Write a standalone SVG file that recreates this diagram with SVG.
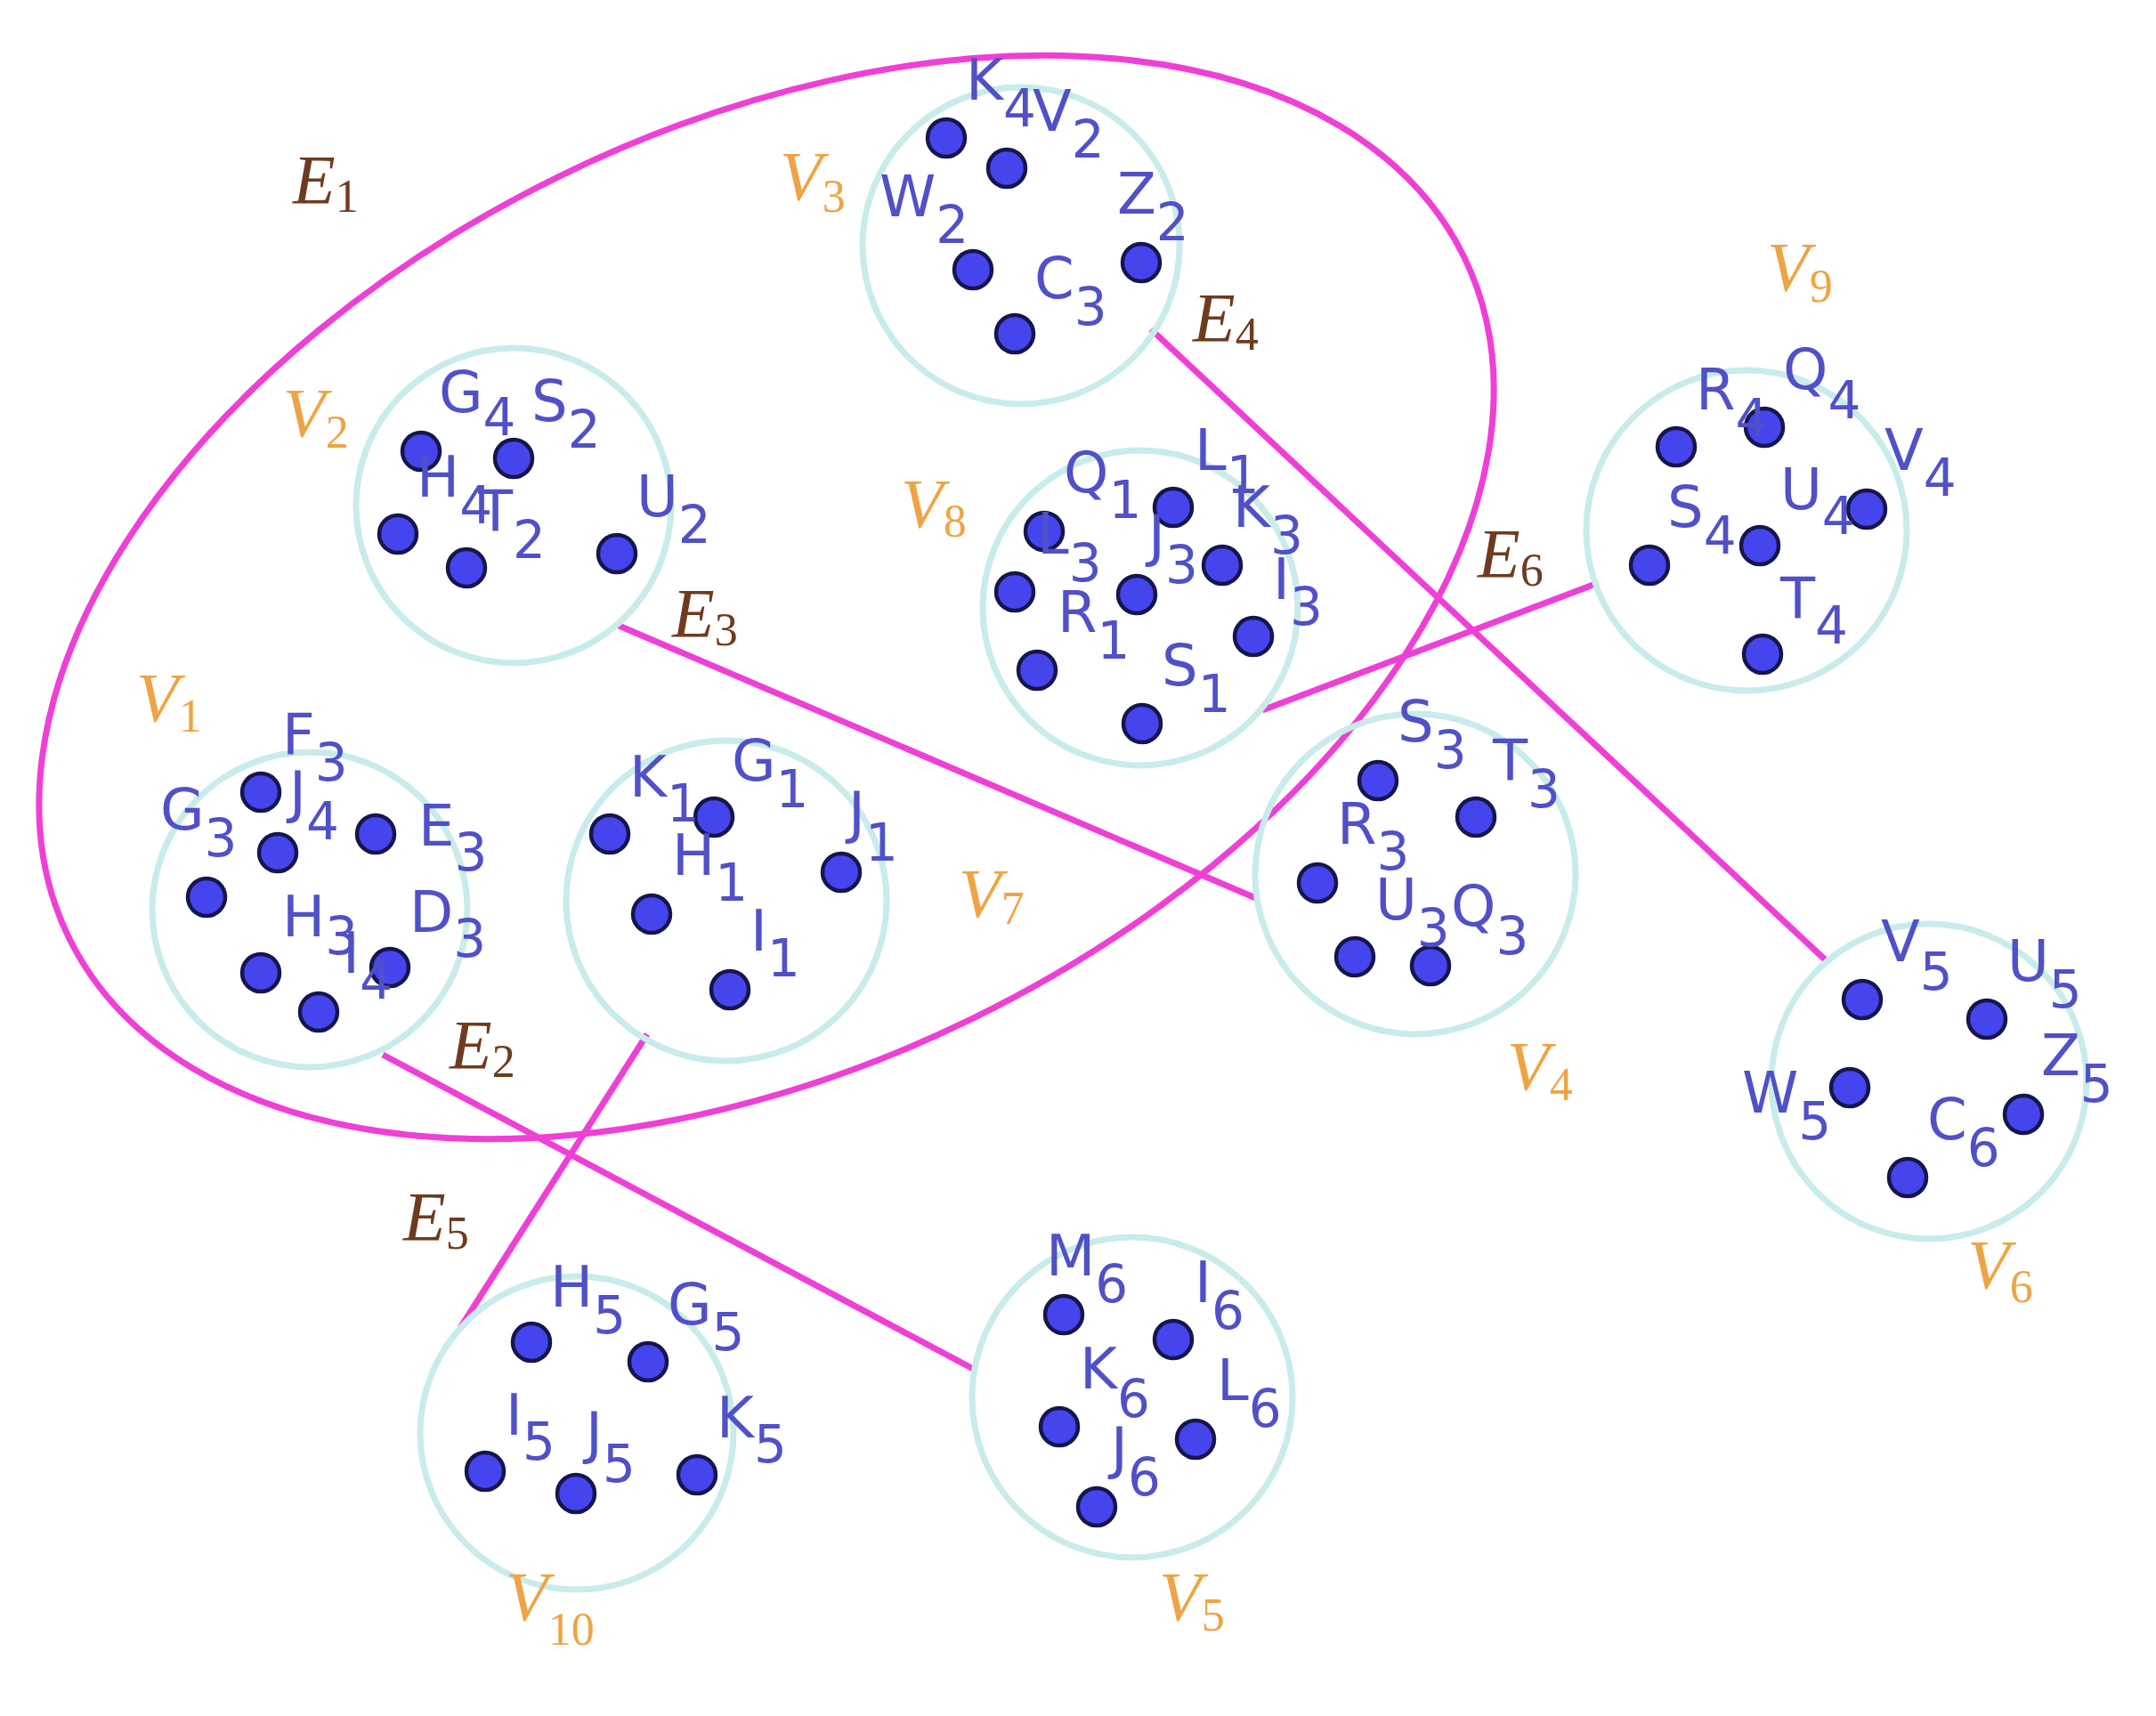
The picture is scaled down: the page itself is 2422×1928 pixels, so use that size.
<svg xmlns="http://www.w3.org/2000/svg" width="2422" height="1928" viewBox="0 0 2422 1928">
<style>
.cl{fill:none;stroke:#c8ebeb;stroke-width:7}
.dot{fill:#4545ee;stroke:#16164c;stroke-width:4.5}
.lb{font-family:"DejaVu Sans",sans-serif;font-size:64px;fill:#5050c8}
.sb{font-size:58px}
.vl{font-family:"Liberation Serif",serif;font-style:italic;font-size:78px;fill:#eea445}
.el{font-family:"Liberation Serif",serif;font-style:italic;font-size:78px;fill:#6e3b1f}
.vs{font-size:52px;font-style:normal}
.edge{fill:none;stroke:#ef3fd6;stroke-width:7}
</style>
<rect width="2422" height="1928" fill="#ffffff"/>
<g id="connectors">
<ellipse class="edge" cx="861" cy="671" rx="872" ry="527" transform="rotate(-26 861 671)"/>
<line class="edge" x1="1293" y1="370" x2="2050" y2="1078"/>
<line class="edge" x1="693" y1="702" x2="1413" y2="1010"/>
<line class="edge" x1="1418" y1="798" x2="1795" y2="655"/>
<line class="edge" x1="430" y1="1185" x2="1097" y2="1540"/>
<line class="edge" x1="727" y1="1162" x2="517" y2="1492"/>
<text class="el" x="329" y="228">E<tspan class="vs" dy="10">1</tspan></text>
<text class="el" x="505" y="1200">E<tspan class="vs" dy="10">2</tspan></text>
<text class="el" x="755" y="715">E<tspan class="vs" dy="10">3</tspan></text>
<text class="el" x="1340" y="383">E<tspan class="vs" dy="10">4</tspan></text>
<text class="el" x="453" y="1393">E<tspan class="vs" dy="10">5</tspan></text>
<text class="el" x="1660" y="648">E<tspan class="vs" dy="10">6</tspan></text>
</g>
<g id="V3">
<circle class="cl" cx="1147" cy="276" r="178"/>
<circle class="dot" cx="1063" cy="155" r="21"/>
<circle class="dot" cx="1131" cy="189" r="21"/>
<circle class="dot" cx="1093" cy="303" r="21"/>
<circle class="dot" cx="1140" cy="375" r="21"/>
<circle class="dot" cx="1282" cy="295" r="21"/>
<text class="lb" x="1085" y="112">K<tspan class="sb" dy="30">4</tspan></text>
<text class="lb" x="1160" y="147">V<tspan class="sb" dy="30">2</tspan></text>
<text class="lb" x="988" y="243">W<tspan class="sb" dy="30">2</tspan></text>
<text class="lb" x="1255" y="240">Z<tspan class="sb" dy="30">2</tspan></text>
<text class="lb" x="1162" y="335">C<tspan class="sb" dy="30">3</tspan></text>
<text class="vl" x="876" y="224">V<tspan class="vs" dy="14">3</tspan></text>
</g>
<g id="V2">
<circle class="cl" cx="577" cy="568" r="177"/>
<circle class="dot" cx="473" cy="507" r="21"/>
<circle class="dot" cx="577" cy="515" r="21"/>
<circle class="dot" cx="447" cy="600" r="21"/>
<circle class="dot" cx="524" cy="638" r="21"/>
<circle class="dot" cx="693" cy="622" r="21"/>
<text class="lb" x="493" y="463">G<tspan class="sb" dy="26">4</tspan></text>
<text class="lb" x="597" y="473">S<tspan class="sb" dy="30">2</tspan></text>
<text class="lb" x="468" y="558">H<tspan class="sb" dy="30">4</tspan></text>
<text class="lb" x="537" y="597">T<tspan class="sb" dy="30">2</tspan></text>
<text class="lb" x="715" y="580">U<tspan class="sb" dy="30">2</tspan></text>
<text class="vl" x="318" y="490">V<tspan class="vs" dy="13">2</tspan></text>
</g>
<g id="V8">
<circle class="cl" cx="1281" cy="683" r="177"/>
<circle class="dot" cx="1318" cy="570" r="21"/>
<circle class="dot" cx="1173" cy="597" r="21"/>
<circle class="dot" cx="1140" cy="665" r="21"/>
<circle class="dot" cx="1277" cy="668" r="21"/>
<circle class="dot" cx="1373" cy="635" r="21"/>
<circle class="dot" cx="1408" cy="715" r="21"/>
<circle class="dot" cx="1165" cy="753" r="21"/>
<circle class="dot" cx="1283" cy="813" r="21"/>
<text class="lb" x="1195" y="553">Q<tspan class="sb" dy="29">1</tspan></text>
<text class="lb" x="1342" y="528">L<tspan class="sb" dy="26">1</tspan></text>
<text class="lb" x="1385" y="592">K<tspan class="sb" dy="30">3</tspan></text>
<text class="lb" x="1165" y="622">L<tspan class="sb" dy="31">3</tspan></text>
<text class="lb" x="1290" y="624">J<tspan class="sb" dy="31">3</tspan></text>
<text class="lb" x="1430" y="673">I<tspan class="sb" dy="29">3</tspan></text>
<text class="lb" x="1188" y="710">R<tspan class="sb" dy="30">1</tspan></text>
<text class="lb" x="1305" y="770">S<tspan class="sb" dy="30">1</tspan></text>
<text class="vl" x="1012" y="592">V<tspan class="vs" dy="11">8</tspan></text>
</g>
<g id="V9">
<circle class="cl" cx="1962" cy="596" r="180"/>
<circle class="dot" cx="1883" cy="502" r="21"/>
<circle class="dot" cx="1982" cy="480" r="21"/>
<circle class="dot" cx="2097" cy="572" r="21"/>
<circle class="dot" cx="1977" cy="613" r="21"/>
<circle class="dot" cx="1853" cy="635" r="21"/>
<circle class="dot" cx="1980" cy="735" r="21"/>
<text class="lb" x="1905" y="460">R<tspan class="sb" dy="30">4</tspan></text>
<text class="lb" x="2003" y="437">Q<tspan class="sb" dy="33">4</tspan></text>
<text class="lb" x="2117" y="528">V<tspan class="sb" dy="29">4</tspan></text>
<text class="lb" x="2000" y="572">U<tspan class="sb" dy="28">4</tspan></text>
<text class="lb" x="1873" y="592">S<tspan class="sb" dy="30">4</tspan></text>
<text class="lb" x="2000" y="695">T<tspan class="sb" dy="28">4</tspan></text>
<text class="vl" x="1985" y="326">V<tspan class="vs" dy="13">9</tspan></text>
</g>
<g id="V1">
<circle class="cl" cx="348" cy="1022" r="177"/>
<circle class="dot" cx="293" cy="890" r="21"/>
<circle class="dot" cx="312" cy="958" r="21"/>
<circle class="dot" cx="422" cy="937" r="21"/>
<circle class="dot" cx="232" cy="1008" r="21"/>
<circle class="dot" cx="293" cy="1093" r="21"/>
<circle class="dot" cx="358" cy="1137" r="21"/>
<circle class="dot" cx="438" cy="1087" r="21"/>
<text class="lb" x="317" y="847">F<tspan class="sb" dy="30">3</tspan></text>
<text class="lb" x="325" y="912">J<tspan class="sb" dy="31">4</tspan></text>
<text class="lb" x="180" y="932">G<tspan class="sb" dy="30">3</tspan></text>
<text class="lb" x="470" y="950">E<tspan class="sb" dy="28">3</tspan></text>
<text class="lb" x="460" y="1047">D<tspan class="sb" dy="28">3</tspan></text>
<text class="lb" x="317" y="1052">H<tspan class="sb" dy="20">3</tspan></text>
<text class="lb" x="385" y="1093">I<tspan class="sb" dy="29">4</tspan></text>
<text class="vl" x="153" y="810">V<tspan class="vs" dy="12">1</tspan></text>
</g>
<g id="V7">
<circle class="cl" cx="816" cy="1012" r="180"/>
<circle class="dot" cx="685" cy="937" r="21"/>
<circle class="dot" cx="802" cy="918" r="21"/>
<circle class="dot" cx="945" cy="980" r="21"/>
<circle class="dot" cx="732" cy="1027" r="21"/>
<circle class="dot" cx="820" cy="1112" r="21"/>
<text class="lb" x="707" y="895">K<tspan class="sb" dy="28">1</tspan></text>
<text class="lb" x="822" y="877">G<tspan class="sb" dy="30">1</tspan></text>
<text class="lb" x="953" y="935">J<tspan class="sb" dy="32">1</tspan></text>
<text class="lb" x="755" y="983">H<tspan class="sb" dy="29">1</tspan></text>
<text class="lb" x="843" y="1068">I<tspan class="sb" dy="29">1</tspan></text>
<text class="vl" x="1077" y="1030">V<tspan class="vs" dy="8">7</tspan></text>
</g>
<g id="V4">
<circle class="cl" cx="1590" cy="982" r="180"/>
<circle class="dot" cx="1548" cy="877" r="21"/>
<circle class="dot" cx="1658" cy="918" r="21"/>
<circle class="dot" cx="1480" cy="992" r="21"/>
<circle class="dot" cx="1522" cy="1075" r="21"/>
<circle class="dot" cx="1607" cy="1085" r="21"/>
<text class="lb" x="1570" y="833">S<tspan class="sb" dy="30">3</tspan></text>
<text class="lb" x="1677" y="877">T<tspan class="sb" dy="30">3</tspan></text>
<text class="lb" x="1502" y="948">R<tspan class="sb" dy="29">3</tspan></text>
<text class="lb" x="1545" y="1033">U<tspan class="sb" dy="30">3</tspan></text>
<text class="lb" x="1630" y="1040">Q<tspan class="sb" dy="32">3</tspan></text>
<text class="vl" x="1693" y="1224">V<tspan class="vs" dy="12">4</tspan></text>
</g>
<g id="V6">
<circle class="cl" cx="2167" cy="1215" r="177"/>
<circle class="dot" cx="2092" cy="1123" r="21"/>
<circle class="dot" cx="2232" cy="1145" r="21"/>
<circle class="dot" cx="2078" cy="1222" r="21"/>
<circle class="dot" cx="2273" cy="1252" r="21"/>
<circle class="dot" cx="2143" cy="1323" r="21"/>
<text class="lb" x="2113" y="1080">V<tspan class="sb" dy="32">5</tspan></text>
<text class="lb" x="2255" y="1102">U<tspan class="sb" dy="30">5</tspan></text>
<text class="lb" x="2293" y="1208">Z<tspan class="sb" dy="30">5</tspan></text>
<text class="lb" x="1957" y="1250">W<tspan class="sb" dy="30">5</tspan></text>
<text class="lb" x="2165" y="1280">C<tspan class="sb" dy="30">6</tspan></text>
<text class="vl" x="2210" y="1447">V<tspan class="vs" dy="16">6</tspan></text>
</g>
<g id="V10">
<circle class="cl" cx="648" cy="1610" r="176"/>
<circle class="dot" cx="597" cy="1508" r="21"/>
<circle class="dot" cx="728" cy="1530" r="21"/>
<circle class="dot" cx="545" cy="1653" r="21"/>
<circle class="dot" cx="647" cy="1678" r="21"/>
<circle class="dot" cx="783" cy="1657" r="21"/>
<text class="lb" x="618" y="1468">H<tspan class="sb" dy="30">5</tspan></text>
<text class="lb" x="750" y="1488">G<tspan class="sb" dy="29">5</tspan></text>
<text class="lb" x="568" y="1612">I<tspan class="sb" dy="28">5</tspan></text>
<text class="lb" x="658" y="1632">J<tspan class="sb" dy="33">5</tspan></text>
<text class="lb" x="805" y="1615">K<tspan class="sb" dy="28">5</tspan></text>
<text class="vl" x="568" y="1820">V<tspan class="vs" dy="28">10</tspan></text>
</g>
<g id="V5">
<circle class="cl" cx="1272" cy="1570" r="180"/>
<circle class="dot" cx="1195" cy="1477" r="21"/>
<circle class="dot" cx="1318" cy="1505" r="21"/>
<circle class="dot" cx="1190" cy="1603" r="21"/>
<circle class="dot" cx="1343" cy="1617" r="21"/>
<circle class="dot" cx="1232" cy="1693" r="21"/>
<text class="lb" x="1175" y="1433">M<tspan class="sb" dy="30">6</tspan></text>
<text class="lb" x="1342" y="1463">I<tspan class="sb" dy="30">6</tspan></text>
<text class="lb" x="1213" y="1560">K<tspan class="sb" dy="32">6</tspan></text>
<text class="lb" x="1367" y="1573">L<tspan class="sb" dy="30">6</tspan></text>
<text class="lb" x="1248" y="1649">J<tspan class="sb" dy="31">6</tspan></text>
<text class="vl" x="1302" y="1820">V<tspan class="vs" dy="12">5</tspan></text>
</g>
</svg>
